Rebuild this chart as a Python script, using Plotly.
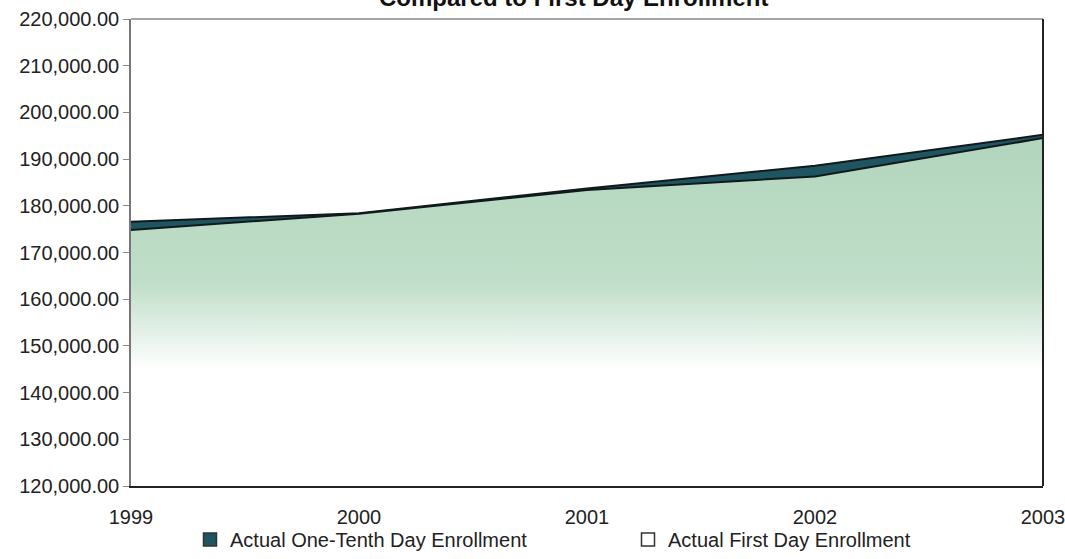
import plotly.graph_objects as go

years = [1999, 2000, 2001, 2002, 2003]
one_tenth_day = [176600, 178400, 183700, 188600, 195200]
first_day = [174800, 178300, 183400, 186300, 194500]

series_names = ['Actual One-Tenth Day Enrollment', 'Actual First Day Enrollment']
teal = '#1f5560'
edge = '#101a1c'

fig = go.Figure()

fig.add_trace(go.Scatter(
    x=years, y=one_tenth_day,
    name=series_names[0], showlegend=False,
    mode='lines', fill='tozeroy',
    fillcolor=teal,
    line=dict(color=edge, width=2),
))

fig.add_trace(go.Scatter(
    x=years, y=first_day,
    name=series_names[1], showlegend=False,
    mode='lines', fill='tozeroy',
    fillgradient=dict(
        type='vertical',
        start=120000, stop=195000,
        colorscale=[[0, 'white'], [0.33, 'white'], [0.58, '#c0dec9'],
                    [1, '#b2d5bd']],
    ),
    line=dict(color=edge, width=2),
))

# legend keys as square swatches
for name, colour in zip(series_names, [teal, 'white']):
    fig.add_trace(go.Scatter(
        x=[None], y=[None], name=name, mode='markers',
        marker=dict(symbol='square', size=13, color=colour,
                    line=dict(color='#333', width=1.5)),
    ))

fig.add_annotation(
    text='<b>Compared to First Day Enrollment</b>',
    xref='paper', yref='paper', x=(573 - 131) / 912, y=1.047,
    xanchor='center', yanchor='middle', showarrow=False,
    font=dict(size=24, color='#111'),
)

# plot frame: grey top edge, dark right edge
fig.add_shape(type='line', xref='paper', yref='paper', x0=0, x1=1, y0=1, y1=1,
              line=dict(color='#888', width=1.5))
fig.add_shape(type='line', xref='paper', yref='paper', x0=1, x1=1, y0=0, y1=1,
              line=dict(color='#222', width=2))

fig.update_layout(
    width=1065, height=559,
    margin=dict(l=131, r=22, t=19, b=73),
    plot_bgcolor='white', paper_bgcolor='white',
    font=dict(family='Liberation Sans, Arial, sans-serif', size=20, color='#222'),
    showlegend=True,
    legend=dict(
        orientation='h', xref='container', x=190 / 1065, xanchor='left',
        yref='container', y=0, yanchor='bottom', bgcolor='rgba(0,0,0,0)',
        font=dict(size=20), entrywidth=393, itemwidth=30,
    ),
    xaxis=dict(
        range=[1999, 2003], tickvals=years, ticktext=[str(y) for y in years],
        showline=True, linecolor='#222', linewidth=2, ticklabeloverflow='allow',
        ticklabelstandoff=12,
        showgrid=False, ticks='', zeroline=False, automargin=False,
    ),
    yaxis=dict(
        range=[120000, 220000], dtick=10000, tickformat=',.2f',
        showline=True, linecolor='#777', linewidth=1.5,
        showgrid=False, ticks='outside', ticklen=6, tickcolor='#888',
        zeroline=False, automargin=False,
    ),
)

# the page default body margin would shift the chart; remove it
fig.write_html('out.html', config={'displayModeBar': False},
               post_script="document.body.style.margin='0';")
